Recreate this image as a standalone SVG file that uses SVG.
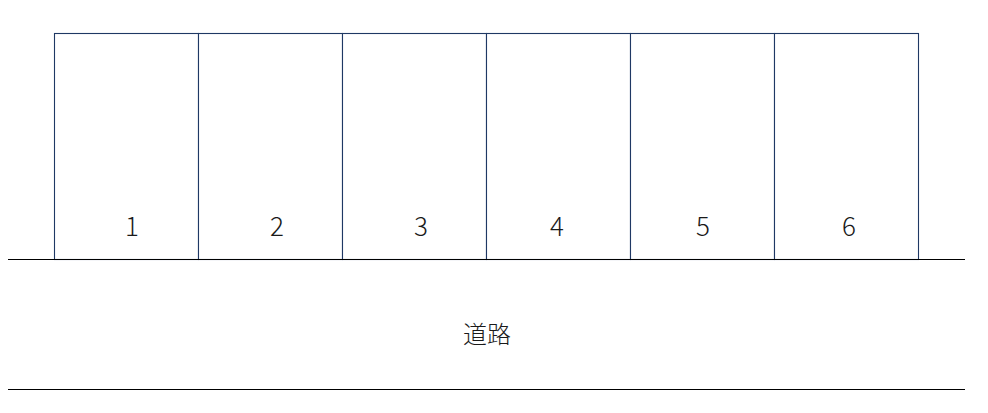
<svg xmlns="http://www.w3.org/2000/svg" width="988" height="413" viewBox="0 0 988 413">
<style>
.lot{fill:#ffffff;stroke:#1f3864;stroke-width:1.1}
.road{stroke:#000000;stroke-width:1.2;fill:none}
.num{font-family:"Noto Sans CJK JP","Noto Sans",sans-serif;font-size:26px;font-weight:300;fill:#1a1a1a;text-anchor:middle}
.lbl{font-family:"Noto Sans CJK JP",sans-serif;font-size:24px;font-weight:300;fill:#1a1a1a;text-anchor:middle}
</style>
<rect width="988" height="413" fill="#ffffff"/>
<g id="lot1"><rect class="lot" x="54.5" y="33.5" width="144" height="226"/><text class="num" x="132" y="236">1</text></g>
<g id="lot2"><rect class="lot" x="198.5" y="33.5" width="144" height="226"/><text class="num" x="277" y="236">2</text></g>
<g id="lot3"><rect class="lot" x="342.5" y="33.5" width="144" height="226"/><text class="num" x="421" y="236">3</text></g>
<g id="lot4"><rect class="lot" x="486.5" y="33.5" width="144" height="226"/><text class="num" x="557" y="236">4</text></g>
<g id="lot5"><rect class="lot" x="630.5" y="33.5" width="144" height="226"/><text class="num" x="703" y="236">5</text></g>
<g id="lot6"><rect class="lot" x="774.5" y="33.5" width="144" height="226"/><text class="num" x="849" y="236">6</text></g>
<g id="connectors">
<line class="road" x1="8" y1="259.5" x2="965" y2="259.5"/>
<line class="road" x1="8" y1="389.5" x2="965" y2="389.5"/>
</g>
<g id="road"><text class="lbl" x="487" y="343">道路</text></g>
</svg>
